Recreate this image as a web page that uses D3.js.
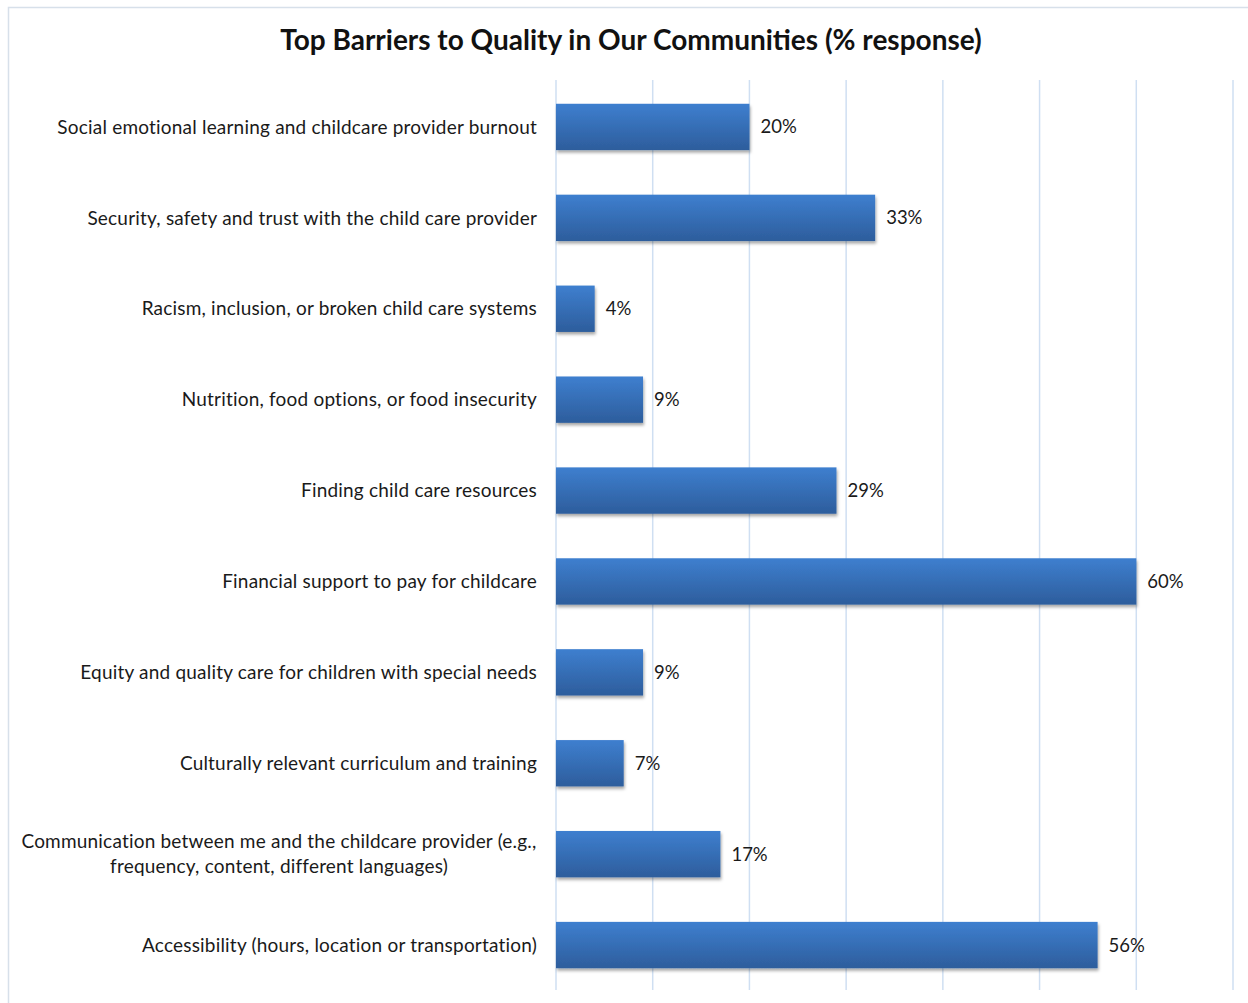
<!DOCTYPE html>
<html>
<head>
<meta charset="utf-8">
<script src="https://cdn.jsdelivr.net/npm/d3@7"></script>
<style>
  html, body { margin: 0; padding: 0; background: #ffffff; }
  svg { display: block; }
</style>
</head>
<body>
<svg id="chart" width="1248" height="1003"></svg>
<script>
// Survey responses: share of respondents naming each barrier
const categories = [
  "Social emotional learning and childcare provider burnout",
  "Security, safety and trust with the child care provider",
  "Racism, inclusion, or broken child care systems",
  "Nutrition, food options, or food insecurity",
  "Finding child care resources",
  "Financial support to pay for childcare",
  "Equity and quality care for children with special needs",
  "Culturally relevant curriculum and training",
  "Communication between me and the childcare provider (e.g.,|frequency, content, different languages)",
  "Accessibility (hours, location or transportation)"
];
const responses = [20, 33, 4, 9, 29, 60, 9, 7, 17, 56];
const gridTicks = [0, 10, 20, 30, 40, 50, 60, 70];
const chartTitle = "Top Barriers to Quality in Our Communities (% response)";

const svg = d3.select("#chart");
const W = 1248, H = 1003;
const plot = { left: 556, right: 1233, top: 81.5, bottom: 990.5 };
const font = "Lato, 'Open Sans', sans-serif";

const defs = svg.append("defs");
const grad = defs.append("linearGradient")
  .attr("id", "barFill").attr("x1", 0).attr("y1", 0).attr("x2", 0).attr("y2", 1);
grad.append("stop").attr("offset", "0%").attr("stop-color", "#3e7fcf");
grad.append("stop").attr("offset", "100%").attr("stop-color", "#2d5d9c");

const shadow = defs.append("filter").attr("id", "barShadow")
  .attr("x", "-5%").attr("y", "-20%").attr("width", "115%").attr("height", "150%");
shadow.append("feDropShadow")
  .attr("dx", 1).attr("dy", 2.5).attr("stdDeviation", 1.5)
  .attr("flood-color", "#000").attr("flood-opacity", 0.35);

// chart frame
svg.append("path")
  .attr("d", `M8.5,${H} V7.5 H${W}`)
  .attr("fill", "none").attr("stroke", "#d7e0ea").attr("stroke-width", 1.5);

const x = d3.scaleLinear().domain([0, 70]).range([plot.left, plot.right]);
const y = d3.scaleBand().domain(categories).range([plot.top, plot.bottom]).paddingInner(0.49).paddingOuter(0.245);

// vertical gridlines
svg.append("g")
  .selectAll("line").data(gridTicks).join("line")
  .attr("x1", d => x(d)).attr("x2", d => x(d))
  .attr("y1", 80).attr("y2", 990)
  .attr("stroke", "#cfdff2").attr("stroke-width", 1.5);

// title
svg.append("text")
  .attr("x", 631).attr("y", 50)
  .attr("text-anchor", "middle")
  .attr("font-family", font).attr("font-weight", 700).attr("font-size", 28)
  .attr("fill", "#111")
  .text(chartTitle);

// bars
svg.append("g")
  .selectAll("rect").data(categories).join("rect")
  .attr("x", x(0))
  .attr("y", d => y(d))
  .attr("width", (d, i) => x(responses[i]) - x(0))
  .attr("height", y.bandwidth())
  .attr("fill", "url(#barFill)")
  .attr("filter", "url(#barShadow)");

// value labels
svg.append("g")
  .selectAll("text").data(categories).join("text")
  .attr("x", (d, i) => x(responses[i]) + 11)
  .attr("y", d => y(d) + y.bandwidth() / 2)
  .attr("dy", "0.35em")
  .attr("font-family", font).attr("font-size", 18.5).attr("fill", "#1a1a1a")
  .text((d, i) => responses[i] + "%");

// category labels (multi-line entries split on "|")
const labelX = d => d.includes("|") ? 279 : 537;
const labels = svg.append("g")
  .selectAll("text").data(categories).join("text")
  .attr("font-family", font).attr("font-size", 19).attr("letter-spacing", 0.2)
  .attr("fill", "#1a1a1a")
  .attr("text-anchor", d => d.includes("|") ? "middle" : "end")
  .attr("x", labelX)
  .attr("y", d => y(d) + y.bandwidth() / 2);

labels.each(function (d) {
  const lines = d.split("|");
  const t = d3.select(this);
  lines.forEach((line, k) => {
    t.append("tspan")
      .attr("x", labelX(d))
      .attr("dy", k === 0 ? `${0.35 - (lines.length - 1) * 0.65}em` : "1.3em")
      .text(line);
  });
});
</script>
</body>
</html>
